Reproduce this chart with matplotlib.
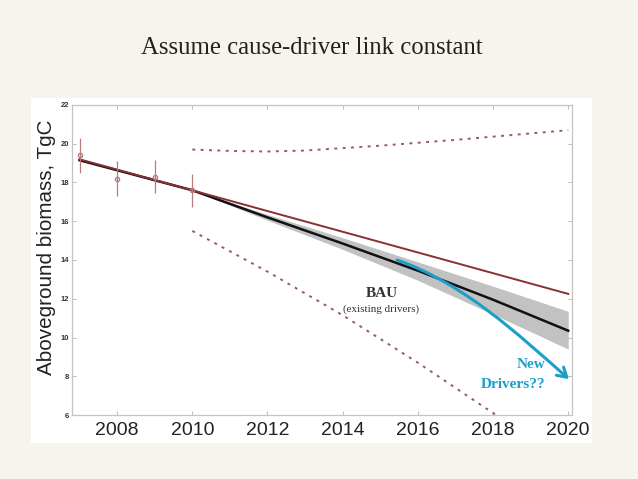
import matplotlib
matplotlib.use("Agg")
import matplotlib.pyplot as plt
from matplotlib.patches import Rectangle, FancyArrowPatch
from matplotlib.path import Path
import numpy as np

# ---- data ----
obs_years = [2007, 2008, 2009, 2010]
obs_values = [19.4, 18.2, 18.3, 17.6]
obs_err = [0.9, 0.9, 0.85, 0.85]

red_years = [2007, 2020]
red_values = [19.2, 12.25]

bau_years = [2007, 2010, 2012, 2014, 2016, 2018, 2020]
bau_values = [19.15, 17.6, 16.2, 14.85, 13.45, 11.95, 10.35]

band_years = [2010, 2012, 2014, 2016, 2018, 2020]
band_upper = [17.6, 16.35, 15.15, 13.9, 12.65, 11.35]
band_lower = [17.6, 16.05, 14.55, 12.95, 11.2, 9.4]

upper_years = [2010, 2011, 2012, 2013, 2015, 2017, 2020]
upper_values = [19.7, 19.63, 19.6, 19.65, 19.9, 20.2, 20.7]

lower_years = [2010, 2012, 2014, 2016, 2018, 2020]
lower_values = [15.5, 13.4, 11.15, 8.7, 6.1, 3.4]

# "new drivers" arrow: start, two bezier guide points, end
new_years = [2015.45, 2017.23, 2018.63, 2020.02]
new_values = [14.0, 12.77, 10.23, 7.85]

x_ticks = [2008, 2010, 2012, 2014, 2016, 2018, 2020]
y_ticks = [6, 8, 10, 12, 14, 16, 18, 20, 22]

# ---- figure ----
W, H = 638, 479
fig = plt.figure(figsize=(W / 100, H / 100), dpi=100)
fig.patch.set_facecolor("#f7f4ee")

# white chart panel
panel = Rectangle((31 / W, 1 - 443 / H), (592 - 31) / W, (443 - 98) / H,
                  transform=fig.transFigure, facecolor="white",
                  edgecolor="none", zorder=-5)
fig.add_artist(panel)

fig.text(312 / W, 1 - 48 / H, "Assume cause-driver link constant",
         ha="center", va="center", fontsize=17.8, family="Liberation Serif",
         color="#222222")

ax = fig.add_axes([72 / W, 1 - 415 / H, (572 - 72) / W, (415 - 105) / H])
ax.set_zorder(1)
ax.set_facecolor("white")
ax.set_xlim(2006.8, 2020.1)
ax.set_ylim(6, 22)

for s in ax.spines.values():
    s.set_color("#c4c4c4")
    s.set_linewidth(0.9)

ax.set_xticks(x_ticks)
ax.set_yticks(y_ticks)
ax.tick_params(direction="in", length=3, width=0.7, color="#bdbdbd",
               top=True, right=True)
ax.tick_params(axis="x", labelsize=14, labelcolor="#222222", pad=5)
ax.tick_params(axis="y", labelsize=5.5, labelcolor="#333333", pad=2)
for lab in ax.get_xticklabels():
    lab.set_family("Liberation Sans")
for lab in ax.get_yticklabels():
    lab.set_family("Liberation Sans")
    lab.set_fontweight("bold")

ax.set_ylabel("Aboveground biomass, TgC", fontsize=14.9, family="Liberation Sans",
              color="#222222")
ax.yaxis.set_label_coords(-0.031, 0.54)

# band
ax.fill_between(band_years, band_lower, band_upper, color="#c2c2c2",
                linewidth=0, zorder=1)

# dotted projection envelopes
ax.plot(upper_years, upper_values, color="#9a5a5a", lw=1.4,
        linestyle=(0, (1.5, 2.8)), zorder=2)
ax.plot(lower_years, lower_values, color="#9a5a5a", lw=1.4,
        linestyle=(0, (1.5, 2.8)), zorder=2)

# lines
ax.plot(bau_years, bau_values, color="#111111", lw=1.8, zorder=3)
ax.plot(red_years, red_values, color="#8a3030", lw=1.4, zorder=4)

# observations
ax.errorbar(obs_years, obs_values, yerr=obs_err, fmt="o", ms=3,
            mfc="none", mec="#b87c7c", ecolor="#b87c7c", elinewidth=0.9,
            capsize=0, zorder=5)

# new drivers curved arrow (cubic bezier)
verts = list(zip(new_years, new_values))
curve = Path(verts, [Path.MOVETO, Path.CURVE4, Path.CURVE4, Path.CURVE4])
arrow = FancyArrowPatch(path=curve,
                        arrowstyle="->,head_length=0.5,head_width=0.3",
                        mutation_scale=13, color="#1a9fc8", lw=2.2,
                        zorder=6, clip_on=False)
ax.add_patch(arrow)

# annotations
ax.text(2015.03, 12.28, "BAU", ha="center", va="center", fontsize=11,
        fontweight="bold", family="Liberation Serif", color="#333333")
ax.text(2015.03, 11.45, "(existing drivers)", ha="center", va="center",
        fontsize=7.9, family="Liberation Serif", color="#333333")
ax.text(2019.4, 8.6, "New", ha="right", va="center", fontsize=11,
        fontweight="bold", family="Liberation Serif", color="#1a9fc8")
ax.text(2019.4, 7.6, "Drivers??", ha="right", va="center", fontsize=11,
        fontweight="bold", family="Liberation Serif", color="#1a9fc8")

fig.savefig("out.png", dpi=100, facecolor=fig.get_facecolor())
